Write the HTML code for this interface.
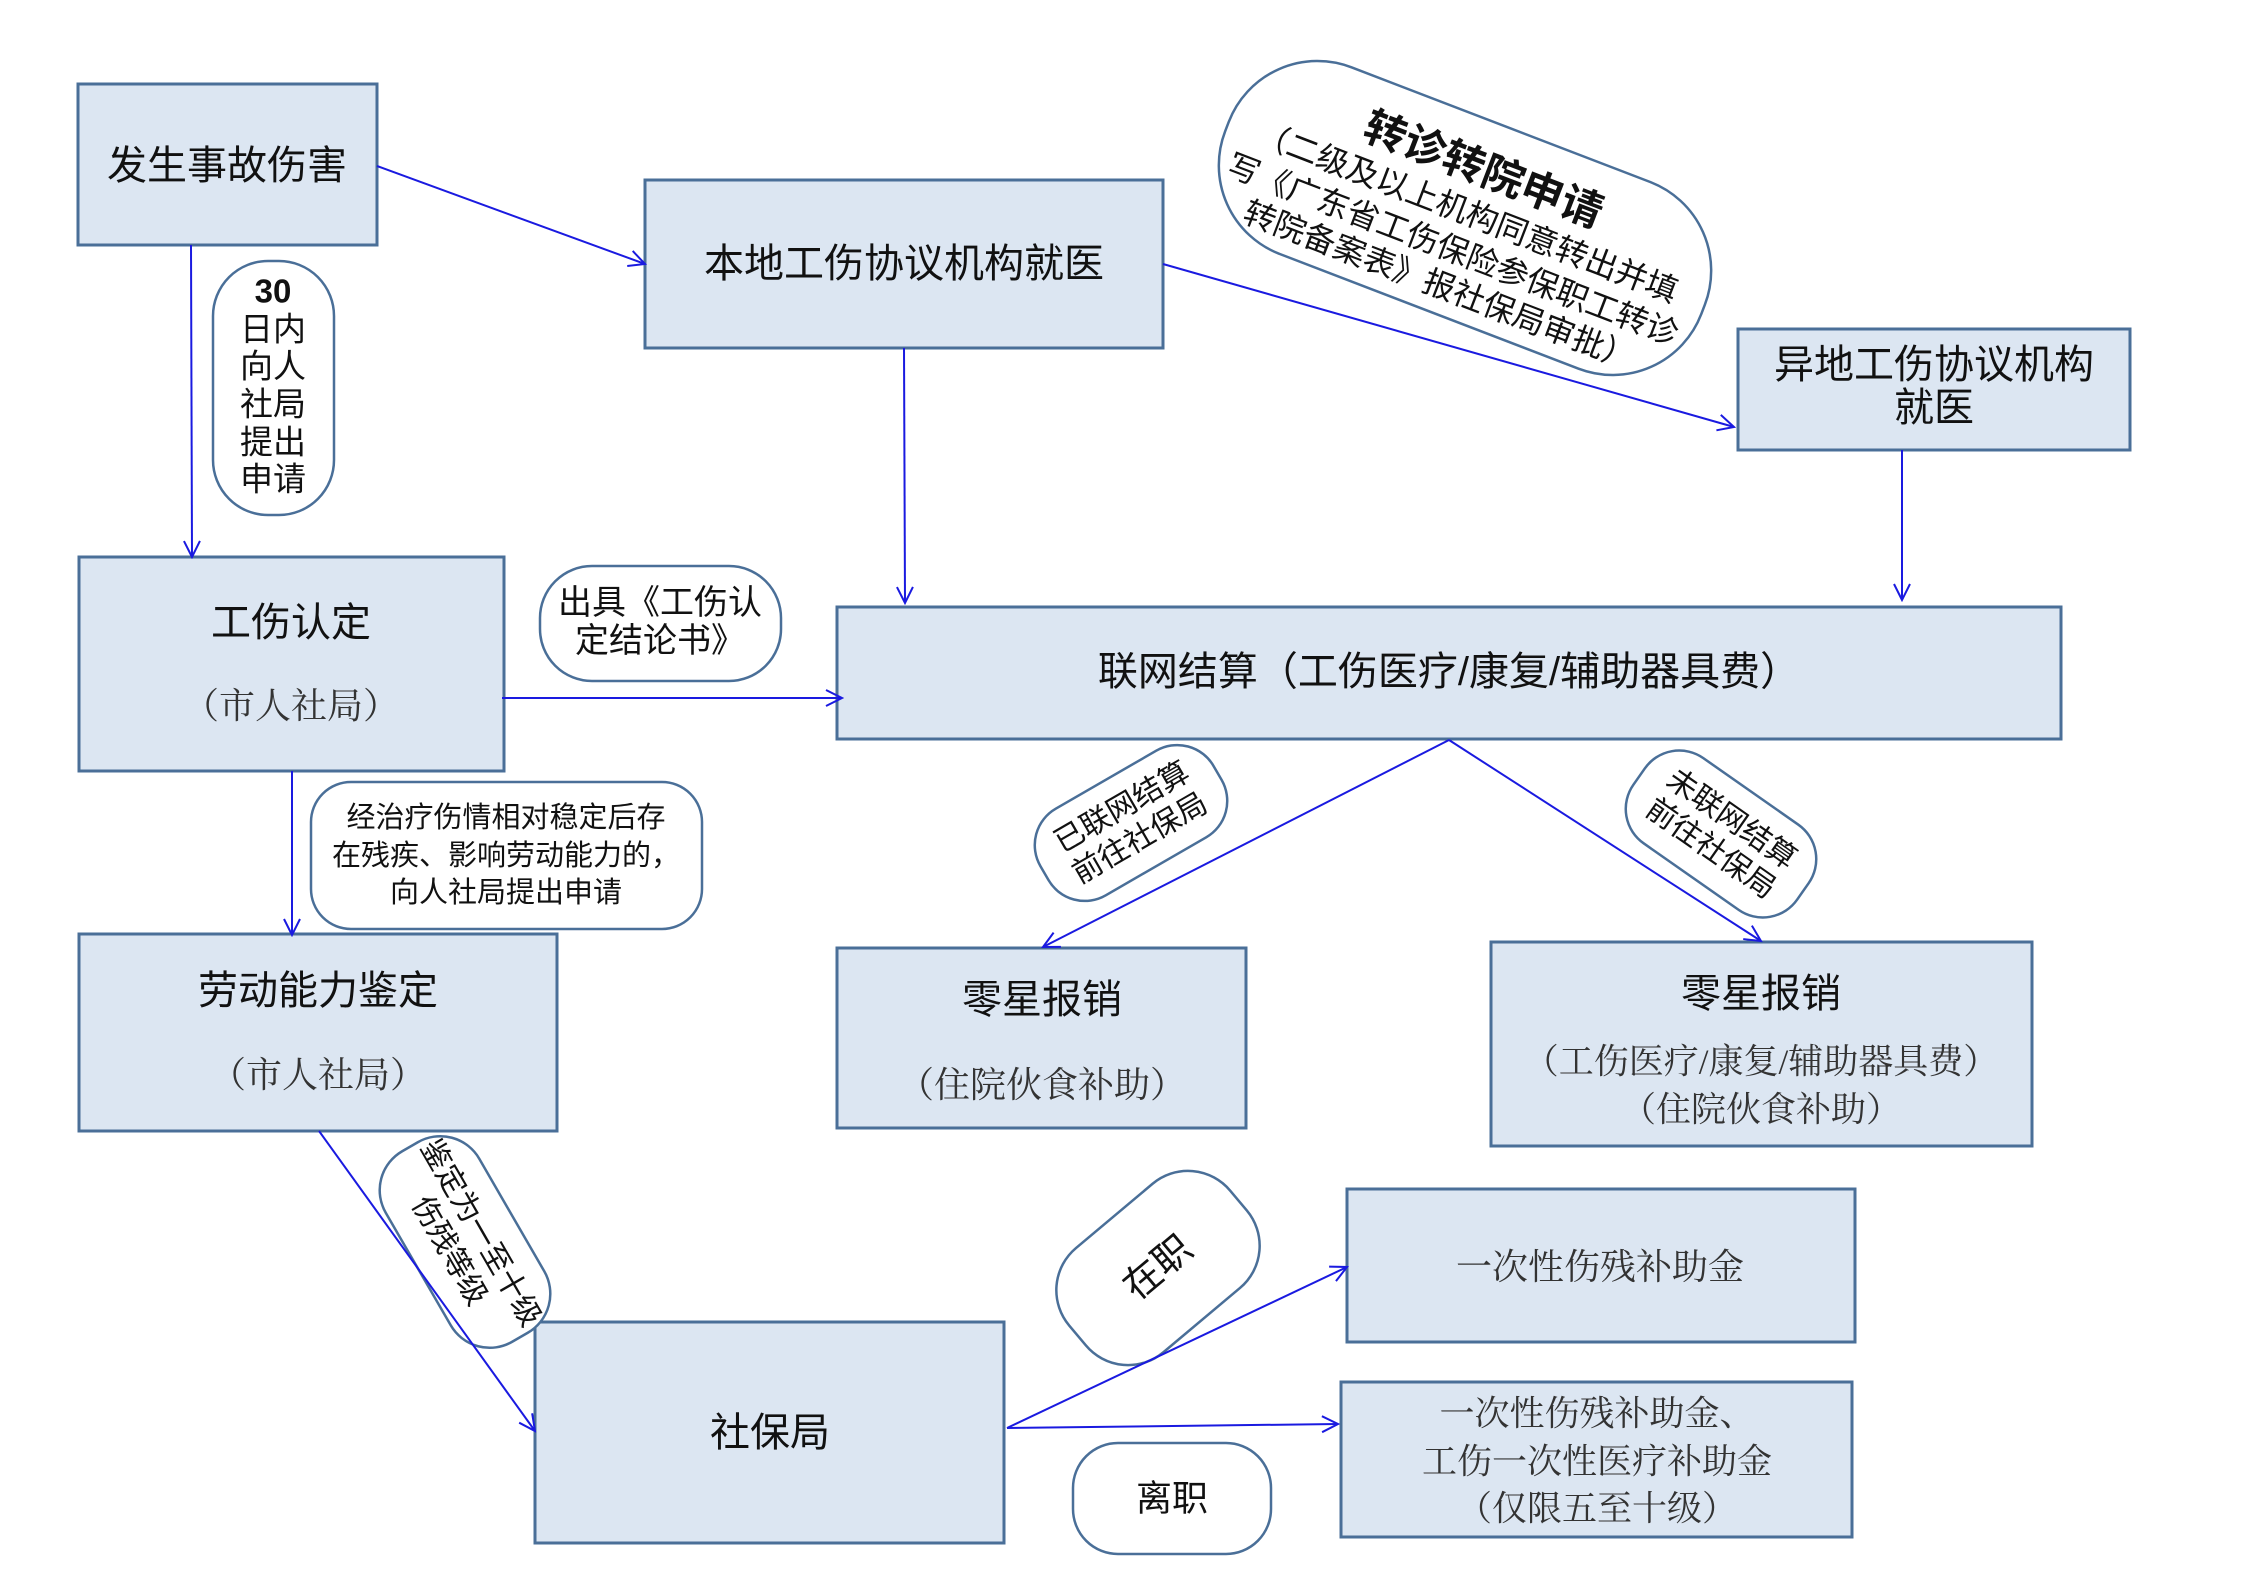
<!DOCTYPE html>
<html><head><meta charset="utf-8"><style>
body{margin:0;background:#fff}
svg{display:block}
text{font-family:"Liberation Sans","Noto Sans CJK SC",sans-serif;fill:#111;text-anchor:middle;dominant-baseline:central}
.s{font-family:"Liberation Serif","Noto Serif CJK SC",serif;fill:#333}
.b{fill:#dce6f2;stroke:#4a6f98;stroke-width:3}
.c{fill:#fff;stroke:#4a6f98;stroke-width:2.5}
.l{stroke:#1a1ae0;stroke-width:2;fill:none}
</style></head><body>
<svg width="2245" height="1587" viewBox="0 0 2245 1587" xmlns="http://www.w3.org/2000/svg">
<defs><marker id="a" markerWidth="20" markerHeight="20" refX="18" refY="10" orient="auto" markerUnits="userSpaceOnUse"><path d="M2,2 L18,10 L2,18" fill="none" stroke="#1a1ae0" stroke-width="2"/></marker></defs>

<!-- boxes -->
<rect class="b" x="78" y="84" width="299" height="161"/>
<text x="227" y="166" font-size="40">发生事故伤害</text>
<rect class="b" x="645" y="180" width="518" height="168"/>
<text x="904" y="264" font-size="40">本地工伤协议机构就医</text>
<rect class="b" x="1738" y="329" width="392" height="121"/>
<text x="1934" y="365" font-size="40">异地工伤协议机构</text>
<text x="1934" y="408" font-size="40">就医</text>
<rect class="b" x="837" y="607" width="1224" height="132"/>
<text x="1449" y="672" font-size="40">联网结算（工伤医疗/康复/辅助器具费）</text>
<rect class="b" x="79" y="557" width="425" height="214"/>
<text x="291" y="623" font-size="40">工伤认定</text>
<text class="s" x="291" y="706" font-size="36">（市人社局）</text>
<rect class="b" x="79" y="934" width="478" height="197"/>
<text x="318" y="991" font-size="40">劳动能力鉴定</text>
<text class="s" x="318" y="1075" font-size="36">（市人社局）</text>
<rect class="b" x="837" y="948" width="409" height="180"/>
<text x="1042" y="1000" font-size="40">零星报销</text>
<text class="s" x="1042" y="1085" font-size="36">（住院伙食补助）</text>
<rect class="b" x="1491" y="942" width="541" height="204"/>
<text x="1761" y="994" font-size="40">零星报销</text>
<text class="s" x="1761" y="1062" font-size="35">（工伤医疗/康复/辅助器具费）</text>
<text class="s" x="1761" y="1110" font-size="35">（住院伙食补助）</text>
<rect class="b" x="1347" y="1189" width="508" height="153"/>
<text class="s" x="1600" y="1267" font-size="36">一次性伤残补助金</text>
<rect class="b" x="1341" y="1382" width="511" height="155"/>
<text class="s" x="1597" y="1414" font-size="35">一次性伤残补助金、</text>
<text class="s" x="1597" y="1462" font-size="35">工伤一次性医疗补助金</text>
<text class="s" x="1597" y="1509" font-size="35">（仅限五至十级）</text>
<rect class="b" x="535" y="1322" width="469" height="221"/>
<text x="770" y="1433" font-size="40">社保局</text>

<!-- callouts -->
<rect class="c" x="213" y="261" width="121" height="254" rx="55"/>
<g font-size="33">
<text x="273" y="291" font-weight="bold">30</text>
<text x="273" y="329">日内</text><text x="273" y="366">向人</text><text x="273" y="404">社局</text><text x="273" y="442">提出</text><text x="273" y="479">申请</text>
</g>
<rect class="c" x="540" y="566" width="241" height="115" rx="52"/>
<text x="660" y="603" font-size="34">出具《工伤认</text>
<text x="660" y="641" font-size="34">定结论书》</text>
<rect class="c" x="311" y="782" width="391" height="147" rx="40"/>
<g font-size="29"><text x="506" y="818">经治疗伤情相对稳定后存</text><text x="506" y="856">在残疾、影响劳动能力的，</text><text x="506" y="893">向人社局提出申请</text></g>
<rect class="c" x="1073" y="1443" width="198" height="111" rx="45"/>
<text x="1172" y="1498" font-size="36">离职</text>

<g transform="translate(1465,218) rotate(21)">
<rect class="c" x="-255" y="-100" width="510" height="200" rx="95"/>
<text x="0" y="-52" font-size="42" font-weight="bold">转诊转院申请</text>
<text x="0" y="-6" font-size="32">（二级及以上机构同意转出并填</text>
<text x="0" y="34" font-size="32">写《广东省工伤保险参保职工转诊</text>
<text x="0" y="72" font-size="32">转院备案表》报社保局审批）</text>
</g>
<g transform="translate(1131,823) rotate(-30)">
<rect class="c" x="-100" y="-50" width="200" height="100" rx="42"/>
<text x="0" y="-18" font-size="30">已联网结算</text><text x="0" y="18" font-size="30">前往社保局</text>
</g>
<g transform="translate(1721,834) rotate(35)">
<rect class="c" x="-100" y="-52" width="200" height="104" rx="42"/>
<text x="0" y="-18" font-size="30">未联网结算</text><text x="0" y="18" font-size="30">前往社保局</text>
</g>
<g transform="translate(465,1242) rotate(60)">
<rect class="c" x="-110" y="-54" width="220" height="108" rx="45"/>
<text x="0" y="-18" font-size="30">鉴定为一至十级</text><text x="0" y="18" font-size="30">伤残等级</text>
</g>
<g transform="translate(1158,1268) rotate(-40)">
<rect class="c" x="-105" y="-68" width="210" height="136" rx="55"/>
<text x="0" y="0" font-size="38">在职</text>
</g>

<!-- connectors -->
<line class="l" x1="377" y1="166" x2="645" y2="264" marker-end="url(#a)"/>
<line class="l" x1="191" y1="245" x2="192" y2="557" marker-end="url(#a)"/>
<line class="l" x1="904" y1="348" x2="905" y2="603" marker-end="url(#a)"/>
<line class="l" x1="1163" y1="264" x2="1734" y2="427" marker-end="url(#a)"/>
<line class="l" x1="1902" y1="450" x2="1902" y2="600" marker-end="url(#a)"/>
<line class="l" x1="502" y1="698" x2="842" y2="698" marker-end="url(#a)"/>
<line class="l" x1="292" y1="771" x2="292" y2="935" marker-end="url(#a)"/>
<line class="l" x1="1449" y1="740" x2="1043" y2="947" marker-end="url(#a)"/>
<line class="l" x1="1449" y1="740" x2="1761" y2="941" marker-end="url(#a)"/>
<line class="l" x1="319" y1="1131" x2="535" y2="1431" marker-end="url(#a)"/>
<line class="l" x1="1007" y1="1428" x2="1347" y2="1267" marker-end="url(#a)"/>
<line class="l" x1="1007" y1="1428" x2="1338" y2="1424" marker-end="url(#a)"/>
</svg>
</body></html>
